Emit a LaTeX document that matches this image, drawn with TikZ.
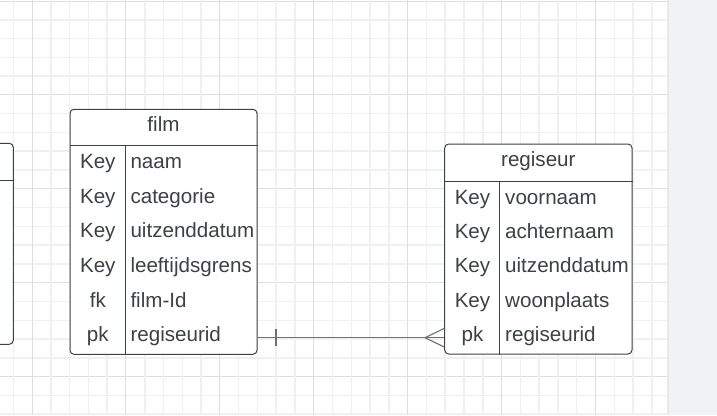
\documentclass[tikz,border=0pt]{standalone}
\usepackage{fontspec}
\setmainfont{Liberation Sans}
\usetikzlibrary{positioning,calc}
\definecolor{inkgray}{HTML}{3C4148}
\definecolor{linegray}{HTML}{6B7079}
\definecolor{gridminor}{HTML}{F0F0F0}
\definecolor{gridmajor}{HTML}{DEDEDE}
\definecolor{panelgray}{HTML}{F1F2F4}
\tikzset{
  tablebox/.style={draw=inkgray, line width=1pt, rounded corners=4pt, fill=white, inner sep=0pt},
  keycell/.style={text=inkgray, font=\fontsize{20.6}{24}\selectfont, inner sep=0pt, text height=0.72em, text depth=0pt},
  fieldcell/.style={keycell, anchor=west},
  rule/.style={draw=inkgray, line width=1pt},
  link/.style={draw=linegray, line width=1.1pt},
}
\begin{document}
\begin{tikzpicture}[x=1pt,y=-1pt]
\useasboundingbox (0,0) rectangle (717,415);
\clip (0,0) rectangle (717,415);
\fill[white] (0,0) rectangle (667,415);
\fill[panelgray] (667,0) rectangle (717,415);
\draw[line width=2pt, draw=panelgray!80!gray!60] (668,0) -- (668,415);

% grid, darker line every 5th
\foreach \j in {0,...,22} {
  \pgfmathtruncatemacro\m{mod(\j,5)}
  \ifnum\m=0
    \draw[gridmajor, line width=1pt] (0,1+18.78*\j) -- (667,1+18.78*\j);
  \else
    \draw[gridminor, line width=1.5pt] (0,1+18.78*\j) -- (667,1+18.78*\j);
  \fi}
\foreach \i in {0,...,34} {
  \pgfmathtruncatemacro\m{mod(\i,5)}
  \ifnum\m=1
    \draw[gridmajor, line width=1pt] (13.3+18.78*\i,0) -- (13.3+18.78*\i,415);
  \else
    \draw[gridminor, line width=1.5pt] (13.3+18.78*\i,0) -- (13.3+18.78*\i,415);
  \fi}

% table cut off at the left edge
\node[tablebox, minimum width=186.6pt, minimum height=201pt] (left) at (-80,243.8) {};
\draw[rule] ([yshift=-37.7pt]left.north west) -- ([yshift=-37.7pt]left.north east);

% film
\node[tablebox, minimum width=187pt, minimum height=245pt] (film) at (163.5,231.8) {};
\draw[rule] ([yshift=-36.7pt]film.north west) -- ([yshift=-36.7pt]film.north east);
\draw[rule] ([xshift=55.7pt,yshift=-36.7pt]film.north west) -- ([xshift=55.7pt]film.south west);
\node[keycell] (film-title) at (163.5,128.3) {film};
\foreach \k/\f [count=\i] in {Key/naam,Key/categorie,Key/uitzenddatum,Key/leeftijdsgrens,fk/film-Id,pk/regiseurid} {
  \node[keycell] (film-k\i) at (97.8,147.5+34.7*\i-17.35) {\k};
  \node[fieldcell] (film-f\i) at (130.3,147.5+34.7*\i-17.35) {\f};
}

% regiseur
\node[tablebox, minimum width=187.3pt, minimum height=210pt] (regiseur) at (538.35,249) {};
\draw[rule] ([yshift=-37.7pt]regiseur.north west) -- ([yshift=-37.7pt]regiseur.north east);
\draw[rule] ([xshift=55.6pt,yshift=-37.7pt]regiseur.north west) -- ([xshift=55.6pt]regiseur.south west);
\node[keycell] (regiseur-title) at (538.35,163.3) {regiseur};
\foreach \k/\f [count=\i] in {Key/voornaam,Key/achternaam,Key/uitzenddatum,Key/woonplaats,pk/regiseurid} {
  \node[keycell] (regiseur-k\i) at (472.5,183.2+34.46*\i-17.23) {\k};
  \node[fieldcell] (regiseur-f\i) at (505,183.2+34.46*\i-17.23) {\f};
}

% relation: one (film) to many (regiseur)
\coordinate (one) at (276,337.7);
\coordinate (crow) at (425,337.7);
\draw[link] (film.east |- crow) -- (regiseur.west |- crow);
\draw[link] (one) ++(0,-8.5) -- ++(0,17);
\draw[link] ($(regiseur.west |- crow)+(0,-9.3)$) -- (crow) -- ($(regiseur.west |- crow)+(0,9.3)$);
\end{tikzpicture}
\end{document}
